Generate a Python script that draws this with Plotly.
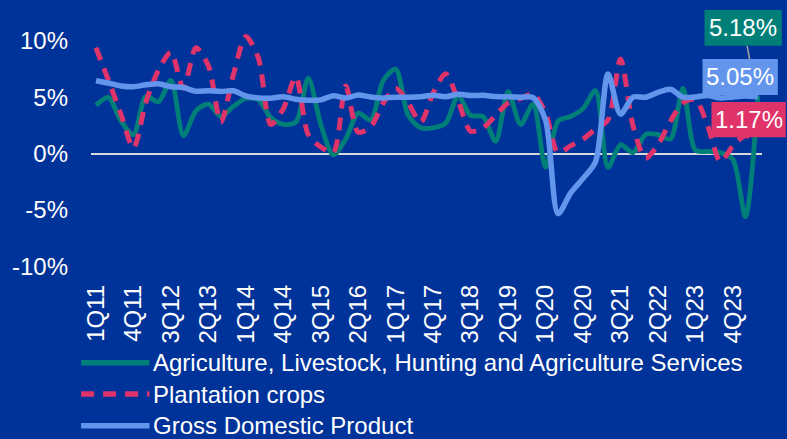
import plotly.graph_objects as go

# Quarterly year-on-year growth, 1Q11 .. 2Q24 (percent)
quarters = [f"{q}Q{y:02d}" for y in range(11, 25) for q in range(1, 5)][:54]

agriculture = [
    4.3, 5.0, 2.9, 1.7, 5.1, 4.6, 6.5, 1.6, 3.8, 4.4,
    3.3, 4.2, 4.9, 4.8, 3.2, 2.6, 2.8, 6.7, 2.6, -0.1,
    1.3, 3.6, 3.0, 6.5, 7.5, 3.4, 2.3, 2.3, 2.7, 5.1,
    3.4, 3.3, 1.1, 5.5, 2.6, 4.4, -1.2, 2.9, 3.3, 4.0,
    5.6, -1.2, 0.8, 0.1, 1.7, 1.7, 1.3, 5.8, 0.3, 0.2,
    0.1, -0.5, -5.6, 5.18,
]

plantation = [
    9.4, 6.5, 3.5, 0.5, 4.6, 7.4, 9.0, 5.8, 9.4, 7.8,
    2.8, 7.0, 10.4, 8.5, 2.6, 4.0, 6.8, 1.7, 0.6, 0.1,
    6.0, 1.9, 2.4, 4.5, 5.8, 4.5, 2.8, 5.4, 7.1, 4.7,
    2.0, 2.3, 3.4, 4.5, 4.9, 5.3, 3.6, 0.1, 0.7, 1.3,
    2.2, 3.0, 8.4, 2.5, -0.4, 0.8, 2.9, 4.5, 4.8, 2.4,
    -0.7, 0.7, 1.6, 1.17,
]

gdp = [
    6.48, 6.27, 6.01, 5.94, 6.11, 6.21, 5.94, 5.87, 5.54, 5.59,
    5.52, 5.58, 5.12, 4.94, 4.93, 5.05, 4.83, 4.74, 4.78, 5.15,
    4.94, 5.21, 5.03, 4.94, 5.01, 5.01, 5.06, 5.19, 5.06, 5.27,
    5.17, 5.18, 5.07, 5.05, 5.02, 4.97, 2.97, -5.32, -3.49, -2.19,
    -0.71, 7.07, 3.51, 5.02, 5.01, 5.44, 5.72, 5.01, 5.04, 5.17,
    4.94, 5.04, 5.11, 5.05,
]

series_names = [
    "Agriculture, Livestock, Hunting and Agriculture Services",
    "Plantation crops",
    "Gross Domestic Product",
]

BG = "#003399"
GREEN = "#007F78"
PINK = "#E0336A"
BLUE = "#6495ED"
FONT = "Liberation Sans, Arial, sans-serif"
FS = 24
DASH = "13px,9px"

W, H = 787, 439
L, R, T, B = 85, 25, 18, 172
PW, PH = W - L - R, H - T - B


def px(x):
    return (x - L) / PW


def py(y):
    return (H - B - y) / PH


x_idx = list(range(len(quarters)))

fig = go.Figure()
fig.add_trace(go.Scatter(x=x_idx, y=agriculture, mode="lines", name=series_names[0],
                         line=dict(color=GREEN, width=4.8, shape="spline", smoothing=0.8)))
fig.add_trace(go.Scatter(x=x_idx, y=plantation, mode="lines", name=series_names[1],
                         line=dict(color=PINK, width=5, dash=DASH, shape="spline", smoothing=0.8)))
fig.add_trace(go.Scatter(x=x_idx, y=gdp, mode="lines", name=series_names[2],
                         line=dict(color=BLUE, width=5.5, shape="spline", smoothing=0.8)))

shapes = []
annotations = []

# Custom legend below the axis
legend_rows = [(362.7, GREEN, "solid"), (394, PINK, DASH), (425.7, BLUE, "solid")]
for (ly, col, dash), name in zip(legend_rows, series_names):
    shapes.append(dict(type="line", xref="paper", yref="paper",
                       x0=px(75), x1=px(144), y0=py(ly), y1=py(ly),
                       line=dict(color=col, width=5.5, dash=dash)))
    annotations.append(dict(xref="paper", yref="paper", x=px(146), y=py(ly),
                            xanchor="left", yanchor="middle", showarrow=False,
                            text=name, font=dict(family=FONT, size=FS, color="white")))

# End-value labels
end_labels = [
    (agriculture[-1], GREEN, 704, 782, 10, 45.7),
    (gdp[-1], BLUE, 702, 778, 59, 95),
    (plantation[-1], PINK, 711, 786, 102, 137.3),
]
shapes.append(dict(type="line", xref="paper", yref="paper",
                   x0=px(747), x1=px(749.5), y0=py(45.7), y1=py(59),
                   line=dict(color="#A6A6A6", width=1.5)))
for val, col, x0, x1, y0, y1 in end_labels:
    shapes.append(dict(type="rect", xref="paper", yref="paper",
                       x0=px(x0), x1=px(x1), y0=py(y1), y1=py(y0),
                       fillcolor=col, line=dict(width=0), layer="above"))
    annotations.append(dict(xref="paper", yref="paper", x=px((x0 + x1) / 2),
                            y=py((y0 + y1) / 2), xanchor="center", yanchor="middle",
                            showarrow=False, text=f"{val:.2f}%",
                            font=dict(family=FONT, size=FS, color="white")))

tick_pos = x_idx[::3]
tick_text = quarters[::3]

fig.update_layout(
    width=W, height=H, autosize=False,
    paper_bgcolor=BG, plot_bgcolor=BG,
    margin=dict(l=L, r=R, t=T, b=B, pad=0),
    showlegend=False,
    font=dict(family=FONT, size=FS, color="white"),
    shapes=shapes,
    annotations=annotations,
    xaxis=dict(range=[-0.4, 53.33], tickmode="array", tickvals=tick_pos, ticktext=tick_text,
               tickangle=-90, showgrid=False, zeroline=False, showline=False,
               ticks="", ticklabelstandoff=12,
               tickfont=dict(family=FONT, size=FS, color="white")),
    yaxis=dict(range=[-10.05, 12.04], tickmode="array", tickvals=[-10, -5, 0, 5, 10],
               ticktext=["-10%", "-5%", "0%", "5%", "10%"],
               showgrid=False, zeroline=True, zerolinecolor="#D9D9D9", zerolinewidth=2,
               showline=False, ticks="", ticklabelstandoff=22,
               tickfont=dict(family=FONT, size=FS, color="white")),
)

fig.write_html("out.html")
